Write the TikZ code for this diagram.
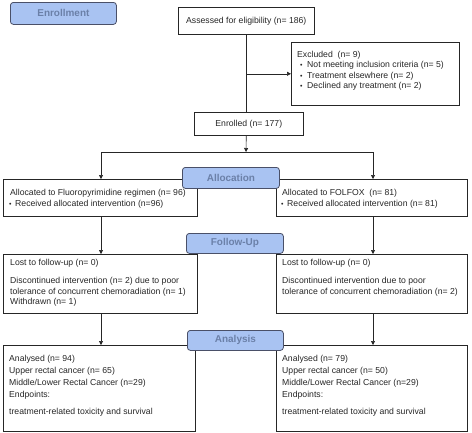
\documentclass[tikz,border=0pt]{standalone}
\usepackage{fontspec}
\setmainfont{Liberation Sans}
\usetikzlibrary{arrows.meta}
\definecolor{lblfill}{HTML}{A9C3F2}
\definecolor{lbltext}{HTML}{6B80A8}
\definecolor{lbldraw}{HTML}{4A5068}
\newcommand{\bul}{\hspace{3bp}\makebox[7bp][l]{\scriptsize\textbullet}}
\begin{document}
\begin{tikzpicture}[x=1bp,y=-1bp,
 box/.style={draw=black!85, line width=0.6pt, anchor=north west, inner sep=0pt, font=\fontsize{8.7}{10.5}\selectfont, text=black!85},
 txt/.style={anchor=north west, inner sep=0pt, align=left, font=\fontsize{8.7}{10.5}\selectfont, text=black!85},
 lbl/.style={draw=lbldraw, fill=lblfill, rounded corners=3bp, line width=0.8pt, anchor=north west, inner sep=0pt, font=\fontsize{10}{12}\selectfont\bfseries, text=lbltext},
 arr/.style={-{Triangle[length=4bp,width=4bp]}, line width=0.6pt, draw=black!85},
 ln/.style={line width=0.6pt, draw=black!85}]
\useasboundingbox (0,0) rectangle (472,432);

% boxes
\node[box, minimum width=136bp, minimum height=27bp] (assess) at (178,7) {Assessed for eligibility (n= 186)};
\node[box, minimum width=168bp, minimum height=63bp] (excl) at (291,42) {};
\node[box, minimum width=109bp, minimum height=23bp] (enrol) at (194,112) {Enrolled (n= 177)};
\node[box, minimum width=194bp, minimum height=37bp] (allocL) at (3,179) {};
\node[box, minimum width=191bp, minimum height=37bp] (allocR) at (276,179) {};
\node[box, minimum width=194bp, minimum height=59bp] (fuL) at (3,254) {};
\node[box, minimum width=191bp, minimum height=59bp] (fuR) at (276,254) {};
\node[box, minimum width=192bp, minimum height=86bp] (anL) at (3,345) {};
\node[box, minimum width=191bp, minimum height=86bp] (anR) at (276,345) {};

% texts
\node[txt] (texcl) at (297,50.7) {Excluded\ \ (n= 9)\\
\bul Not meeting inclusion criteria (n= 5)\\
\bul Treatment elsewhere (n= 2)\\
\bul Declined any treatment (n= 2)};
\node[txt] (tallocL) at (10,188.7) {Allocated to Fluoropyrimidine regimen (n= 96)\\[0.5bp]
\hspace{-1bp}\makebox[6bp][l]{\scriptsize\textbullet}Received allocated intervention (n=96)};
\node[txt] (tallocR) at (282,188.7) {Allocated to FOLFOX\ \ (n= 81)\\[0.5bp]
\hspace{-1bp}\makebox[6bp][l]{\scriptsize\textbullet}Received allocated intervention (n= 81)};
\node[txt] (tfuL) at (10,258.7) {Lost to follow-up (n= 0)\\[8bp]
Discontinued intervention (n= 2) due to poor\\
tolerance of concurrent chemoradiation (n= 1)\\
Withdrawn (n= 1)};
\node[txt] (tfuR) at (282,258.7) {Lost to follow-up (n= 0)\\[8bp]
Discontinued intervention due to poor\\
tolerance of concurrent chemoradiation (n= 2)};
\node[txt] (tanL) at (9,354.7) {Analysed (n= 94)\\[1.5bp]
Upper rectal cancer (n= 65)\\[1.5bp]
Middle/Lower Rectal Cancer (n=29)\\[1.5bp]
Endpoints:\\[6.5bp]
treatment-related toxicity and survival};
\node[txt] (tanR) at (282,354.7) {Analysed (n= 79)\\[1.5bp]
Upper rectal cancer (n= 50)\\[1.5bp]
Middle/Lower Rectal Cancer (n=29)\\[1.5bp]
Endpoints:\\[6.5bp]
treatment-related toxicity and survival};

% connectors
\coordinate (split) at (246,152);
\coordinate (sl) at (101,152);
\coordinate (sr) at (373,152);
\draw[ln] (assess.south) -- (assess.south |- enrol.north);
\draw[arr] (assess.south |- excl.west) -- (excl.west);
\draw[arr] (assess.south |- enrol.south) -- (split);
\draw[ln] (sl) -- (sr);
\draw[arr] (sl) -- (sl |- allocL.north);
\draw[arr] (sr) -- (sr |- allocR.north);
\draw[arr] (sl |- allocL.south) -- (sl |- fuL.north);
\draw[arr] (sr |- allocR.south) -- (sr |- fuR.north);
\draw[arr] (sl |- fuL.south) -- (sl |- anL.north);
\draw[arr] (sr |- fuR.south) -- (sr |- anR.north);

% phase labels
\node[lbl, minimum width=106bp, minimum height=22bp] (enrl) at (10,2) {Enrollment};
\node[lbl, minimum width=97bp, minimum height=21bp] (allo) at (182,167) {Allocation};
\node[lbl, minimum width=97bp, minimum height=20bp] (folu) at (186,233) {Follow-Up};
\node[lbl, minimum width=96bp, minimum height=20bp] (anal) at (187,330) {Analysis};
\end{tikzpicture}
\end{document}
